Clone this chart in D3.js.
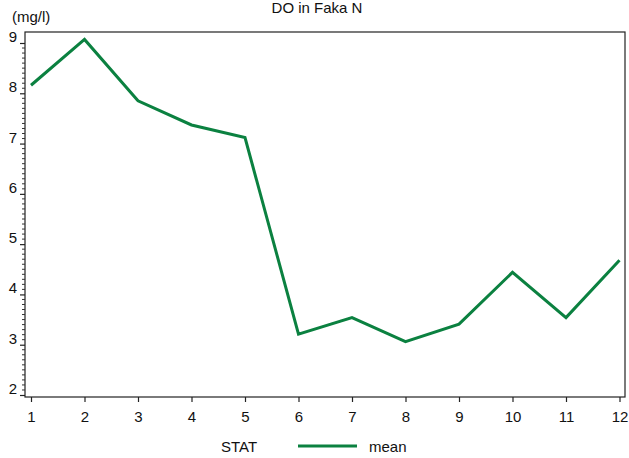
<!DOCTYPE html>
<html><head><meta charset="utf-8">
<script src="https://cdn.jsdelivr.net/npm/d3@7"></script>
<style>body{margin:0;background:#fff}svg{display:block}text{font-family:"Liberation Sans",Arial,sans-serif;fill:#111}</style>
</head><body><svg id="c" width="629" height="458"></svg>
<script>
const months = [1,2,3,4,5,6,7,8,9,10,11,12];
const meanDO = [8.16,9.07,7.85,7.37,7.12,3.21,3.54,3.06,3.41,4.44,3.54,4.68];
const yTicks = [2,3,4,5,6,7,8,9];
const title = "DO in Faka N";
const unitLabel = "(mg/l)";
const legendTitle = "STAT";
const seriesName = "mean";

const svg = d3.select("#c");
const L=25, R=625, T=32, B=397;
const x = d3.scaleLinear().domain([1,12]).range([31,619.5]);
const y = d3.scaleLinear().domain([2,9]).range([395,43]);

svg.append("rect").attr("x",L).attr("y",T).attr("width",R-L).attr("height",B-T)
  .attr("fill","none").attr("stroke","#222").attr("stroke-width",1.2);

const minor = d3.range(20,91).map(d=>d/10).filter(v=>!yTicks.includes(v));
svg.append("g").selectAll("line").data(minor).join("line")
  .attr("x1",L-3).attr("x2",L).attr("y1",d=>y(d)).attr("y2",d=>y(d))
  .attr("stroke","#333").attr("stroke-width",1);
const yAxis = d3.axisLeft(y).tickValues(yTicks).tickSize(5).tickFormat(d3.format("d"));
const gy = svg.append("g").attr("transform",`translate(${L},0)`).call(yAxis);
gy.select(".domain").remove();
gy.selectAll("line").attr("stroke","#222").attr("stroke-width",1.2);
gy.selectAll("text").attr("font-size",15).attr("x",-8).attr("dy","-0.1em")
  .style("font-family","Liberation Sans, Arial, sans-serif").attr("fill","#111");

const xAxis = d3.axisBottom(x).tickValues(months).tickSize(5).tickFormat(d3.format("d"));
const gx = svg.append("g").attr("transform",`translate(0,${B})`).call(xAxis);
gx.select(".domain").remove();
gx.selectAll("line").attr("stroke","#222").attr("stroke-width",1.2);
gx.selectAll("text").attr("font-size",15).attr("y",14)
  .style("font-family","Liberation Sans, Arial, sans-serif").attr("fill","#111");

svg.append("path").datum(months.map((m,i)=>[m,meanDO[i]]))
  .attr("d", d3.line().x(d=>x(d[0])).y(d=>y(d[1])))
  .attr("fill","none").attr("stroke","#0b8140").attr("stroke-width",3).attr("stroke-linejoin","miter");

svg.append("text").attr("x",317).attr("y",13).attr("text-anchor","middle").attr("font-size",15).text(title);
svg.append("text").attr("x",12).attr("y",22).attr("font-size",15).text(unitLabel);

svg.append("text").attr("x",221).attr("y",452).attr("font-size",15).text(legendTitle);
svg.append("line").attr("x1",298).attr("x2",357).attr("y1",446).attr("y2",446)
  .attr("stroke","#0b8140").attr("stroke-width",3);
svg.append("text").attr("x",369).attr("y",452).attr("font-size",15).text(seriesName);
</script></body></html>
